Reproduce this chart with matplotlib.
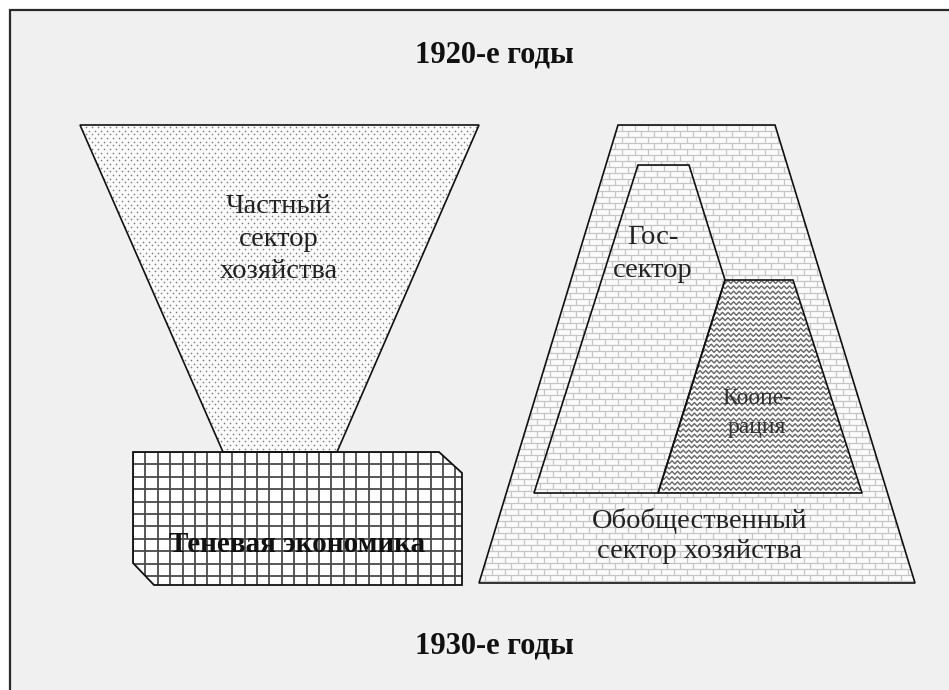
import numpy as np
import matplotlib
matplotlib.use("Agg")
import matplotlib.pyplot as plt
from matplotlib.patches import Polygon, Rectangle
from matplotlib.collections import LineCollection

# ---- diagram content (pixel coordinates of the 949x690 canvas) ----
title_top = "1920-е годы"
title_bottom = "1930-е годы"

private_label = "Частный\nсектор\nхозяйства"
shadow_label = "Теневая экономика"
state_label = "Гос-\nсектор"
coop_label = "Коопе-\nрация"
social_label = "Обобщественный\nсектор хозяйства"

funnel_xy = [(80, 125), (479, 125), (337, 452), (223, 452)]
shadow_xy = [(133, 452), (439, 452), (462, 473), (462, 585), (154, 585), (133, 563)]
outer_xy = [(618, 125), (775, 125), (915, 583), (479, 583)]
state_xy = [(534, 493), (638, 165), (689, 165), (725, 280), (658, 493)]
coop_xy = [(658, 493), (725, 280), (793, 280), (862, 493)]

W, H = 949, 690
fig = plt.figure(figsize=(W / 100, H / 100), dpi=100)
fig.patch.set_facecolor("white")
ax = fig.add_axes([0, 0, 1, 1])
ax.set_xlim(0, W)
ax.set_ylim(H, 0)
ax.axis("off")

# frame: grey panel, only its left and top edges fall inside the picture
ax.add_patch(Rectangle((10, 10), 2000, 2000, facecolor="#f0f0f0",
                       edgecolor="none", zorder=0))
ax.plot([10, 10, 2000], [2000, 10, 10], color="#2a2a2a", lw=1.6,
        solid_joinstyle="miter", zorder=0.5)

SERIF = ["Liberation Serif", "DejaVu Serif"]


def bbox(xy):
    a = np.array(xy)
    return a[:, 0].min(), a[:, 0].max(), a[:, 1].min(), a[:, 1].max()


def shape(xy, face, z):
    p = Polygon(xy, closed=True, facecolor=face, edgecolor="none", zorder=z)
    ax.add_patch(p)
    return p


def outline(xy, z, lw=1.2):
    ax.add_patch(Polygon(xy, closed=True, facecolor="none", edgecolor="#111111",
                         lw=lw, zorder=z))


def dots(xy, patch, sx=6.0, sy=3.7, z=2):
    x0, x1, y0, y1 = bbox(xy)
    pts = []
    for r, y in enumerate(np.arange(y0 + 2, y1 + sy, sy)):
        off = (r % 2) * sx / 2
        for x in np.arange(x0 + off, x1 + sx, sx):
            pts.append((x, y))
    pts = np.array(pts)
    sc = ax.scatter(pts[:, 0], pts[:, 1], s=1.4, c="#7c7c7c", linewidths=0,
                    zorder=z)
    sc.set_clip_path(patch)


def grid(xy, patch, step=12.4, z=2):
    x0, x1, y0, y1 = bbox(xy)
    segs = []
    for x in np.arange(x0, x1 + 1, step):
        segs.append([(x, y0), (x, y1)])
    for y in np.arange(y0, y1 + 1, step):
        segs.append([(x0, y), (x1, y)])
    lc = LineCollection(segs, colors="#4a4a4a", linewidths=1.3, zorder=z)
    ax.add_collection(lc)
    lc.set_clip_path(patch)


def bricks(xy, patch, bw=13.0, bh=6.0, z=2):
    x0, x1, y0, y1 = bbox(xy)
    segs = []
    ys = np.arange(y0, y1 + bh, bh)
    for k, y in enumerate(ys):
        segs.append([(x0, y), (x1, y)])
        off = (k % 2) * bw / 2
        for x in np.arange(x0 - bw + off, x1 + bw, bw):
            segs.append([(x, y), (x, y + bh)])
    lc = LineCollection(segs, colors="#c6c6c6", linewidths=0.9, zorder=z)
    ax.add_collection(lc)
    lc.set_clip_path(patch)


def zigzag(xy, patch, dy=5.3, dx=2.8, amp=1.5, z=2):
    x0, x1, y0, y1 = bbox(xy)
    segs = []
    xs = np.arange(x0 - dx, x1 + dx, dx)
    sign = np.where(np.arange(len(xs)) % 2 == 0, -1.0, 1.0)
    for y in np.arange(y0 + 2, y1 + dy, dy):
        segs.append(np.column_stack([xs, y + amp * sign]))
    lc = LineCollection(segs, colors="#666666", linewidths=1.0, zorder=z)
    ax.add_collection(lc)
    lc.set_clip_path(patch)


# left: private sector funnel
p = shape(funnel_xy, "#fbfbfb", 1)
dots(funnel_xy, p)
outline(funnel_xy, 5)

# shadow economy block
p = shape(shadow_xy, "#ffffff", 1)
grid(shadow_xy, p)
outline(shadow_xy, 5, lw=1.3)

# right: socialised sector
p = shape(outer_xy, "#fbfbfb", 1)
bricks(outer_xy, p)
outline(outer_xy, 5)

p = shape(state_xy, "#fbfbfb", 3)
bricks(state_xy, p, z=3.5)
p = shape(coop_xy, "#ffffff", 3)
zigzag(coop_xy, p, z=3.5)
outline(state_xy, 5)
outline(coop_xy, 5)

# texts
ax.text(494, 55, title_top, ha="center", va="center", fontsize=22,
        fontweight="bold", family=SERIF, color="#111111", zorder=10)
ax.text(494, 646, title_bottom, ha="center", va="center", fontsize=22,
        fontweight="bold", family=SERIF, color="#111111", zorder=10)

ax.text(279, 239, private_label, ha="center", va="center", fontsize=20.5,
        family=SERIF, color="#222222", linespacing=1.42, zorder=10)
ax.text(297, 545, shadow_label, ha="center", va="center", fontsize=21,
        fontweight="bold", family=SERIF, color="#111111", zorder=10)
ax.text(653, 254, state_label, ha="center", va="center", fontsize=20.5,
        family=SERIF, color="#222222", linespacing=1.38, zorder=10)
ax.text(757, 413, coop_label, ha="center", va="center", fontsize=17,
        family=SERIF, color="#333333", linespacing=1.45, zorder=10)
ax.text(700, 536, social_label, ha="center", va="center", fontsize=20.5,
        family=SERIF, color="#222222", linespacing=1.3, zorder=10)

fig.savefig("out.png", dpi=100, facecolor=fig.get_facecolor())
